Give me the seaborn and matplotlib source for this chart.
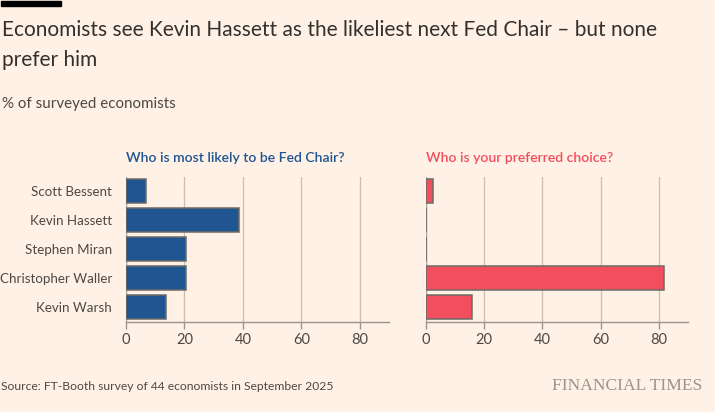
import matplotlib
matplotlib.use("Agg")
import matplotlib.pyplot as plt
import seaborn as sns
import pandas as pd

names = ["Scott Bessent", "Kevin Hassett", "Stephen Miran", "Christopher Waller", "Kevin Warsh"]
likely = [6.8, 38.6, 20.5, 20.5, 13.6]
preferred = [2.3, 0.0, 0.0, 81.8, 15.9]
xticks = [0, 20, 40, 60, 80]

title_lines = ["Economists see Kevin Hassett as the likeliest next Fed Chair – but none", "prefer him"]
subtitle = "% of surveyed economists"
left_title = "Who is most likely to be Fed Chair?"
right_title = "Who is your preferred choice?"
source = "Source: FT-Booth survey of 44 economists in September 2025"

BG = "#FFF1E5"
BLUE = "#1F5591"
RED = "#F24E5D"
EDGE = "#6E6A66"
GRID = "#CCC0B5"
TEXT = "#4D4845"

sns.set_theme(style="white")
plt.rcParams["font.family"] = ["Lato", "DejaVu Sans"]

fig = plt.figure(figsize=(7.15, 4.12), dpi=100, facecolor=BG)
W, H = 715, 412

def axrect(x0, y0, x1, y1):
    return [x0 / W, 1 - y1 / H, (x1 - x0) / W, (y1 - y0) / H]

axL = fig.add_axes(axrect(126, 177, 389, 322))
axR = fig.add_axes(axrect(426, 177, 688, 322))

dfL = pd.DataFrame({"name": names, "value": likely})
dfR = pd.DataFrame({"name": names, "value": preferred})

for ax, df, color, ptitle, pcolor in [
    (axL, dfL, BLUE, left_title, BLUE),
    (axR, dfR, RED, right_title, RED),
]:
    ax.set_facecolor(BG)
    sns.barplot(data=df, x="value", y="name", orient="h", color=color,
                saturation=1, width=0.83, edgecolor=EDGE, linewidth=1.1,
                ax=ax, zorder=3)
    ax.set_xlim(0, 90)
    ax.set_ylim(4.517, -0.483)
    ax.set_xticks(xticks)
    ax.set_xticklabels([str(t) for t in xticks])
    ax.grid(axis="x", color=GRID, linewidth=1, zorder=0)
    ax.grid(axis="y", visible=False)
    for s in ["top", "right", "left"]:
        ax.spines[s].set_visible(False)
    ax.spines["bottom"].set_color("#9E938A")
    ax.spines["bottom"].set_linewidth(1)
    ax.axvline(0, color="#B3A79D", linewidth=1, zorder=2)
    ax.tick_params(axis="x", colors="#9E938A", length=5, width=1, labelcolor=TEXT,
                   labelsize=10.5, pad=3, bottom=True)
    ax.tick_params(axis="y", length=0, labelsize=9.6, labelcolor=TEXT, pad=10)
    ax.set_xlabel("")
    ax.set_ylabel("")
    ax.text(0, 1.13, ptitle, transform=ax.transAxes, color=pcolor,
            fontsize=10.1, fontweight="semibold", ha="left", va="center")

axR.set_yticklabels([])

for i, line in enumerate(title_lines):
    fig.text(2 / W, 1 - (30 + 30 * i) / H, line, fontsize=15, color="#33302E",
             ha="left", va="center")
fig.text(2 / W, 1 - 104 / H, subtitle, fontsize=10.9, color=TEXT, ha="left", va="center")
fig.text(1 / W, 1 - 386 / H, source, fontsize=8.7, color=TEXT, ha="left", va="center")
fig.text(702 / W, 1 - 386 / H, "FINANCIAL TIMES", fontsize=12.6, color="#9E938A",
         ha="right", va="center", family=["Liberation Serif", "DejaVu Serif"])

fig.patches.append(plt.Rectangle((1 / W, 1 - 6 / H), 60 / W, 5 / H,
                                 transform=fig.transFigure, color="black"))

fig.savefig("out.png", dpi=100, facecolor=BG)
